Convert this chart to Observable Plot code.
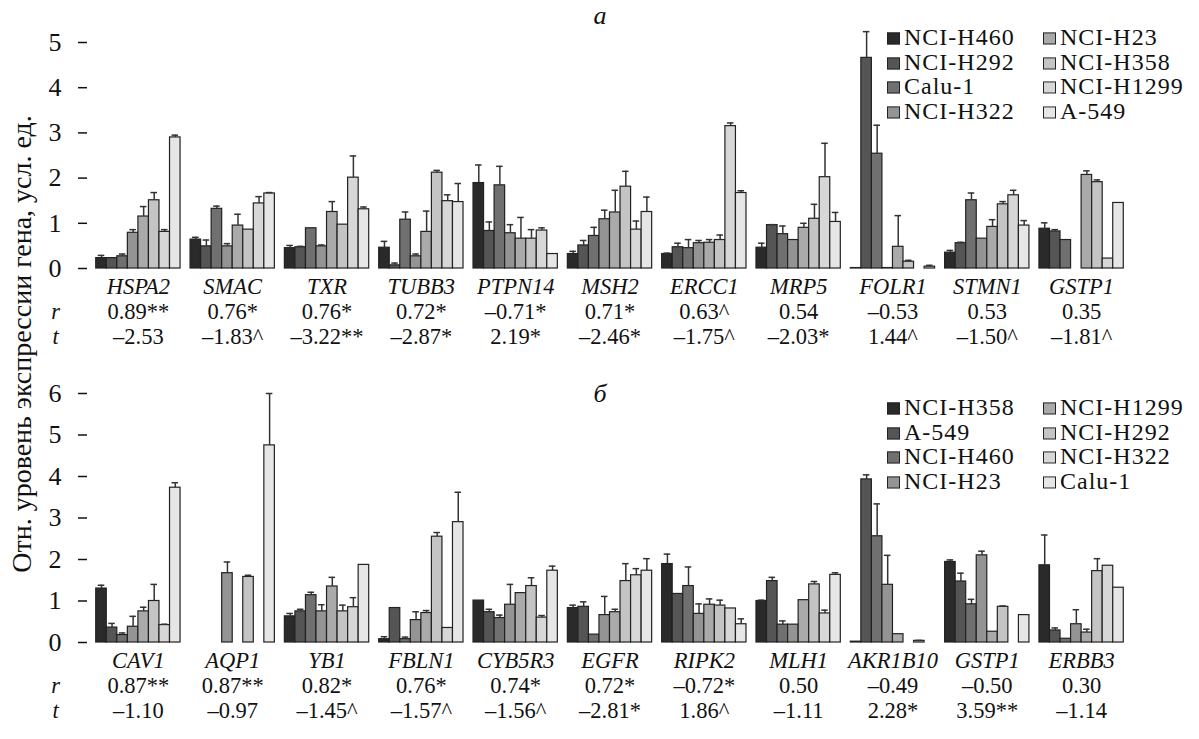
<!DOCTYPE html>
<html><head><meta charset="utf-8">
<script src="https://cdn.jsdelivr.net/npm/d3@7"></script>
<script src="https://cdn.jsdelivr.net/npm/@observablehq/plot@0.6"></script>
<style>
body{margin:0;background:#fff;font-family:"Liberation Serif","Times New Roman",Times,serif;color:#111}
#wrap{position:relative;width:1199px;height:739px;overflow:hidden;background:#fff}
.panel{position:absolute;left:0}
.panel text{font-family:"Liberation Serif","Times New Roman",Times,serif}
.lg{position:absolute;font-size:24px;line-height:24px;letter-spacing:1px;white-space:nowrap;color:#111;transform:scaleY(0.92);transform-origin:left center}
.lg i{display:inline-block;width:11px;height:11px;border:1px solid #222;margin-right:4px;vertical-align:1px}
.plabel{position:absolute;font-style:italic;font-size:26px;transform:translate(-50%,-50%)}
#ylab{position:absolute;left:22px;top:344px;transform:translate(-50%,-50%) rotate(-90deg);font-size:28px;white-space:nowrap}
</style></head>
<body><div id="wrap"></div>
<script>
// ---------- data: panel а ----------
const genesA = ["HSPA2","SMAC","TXR","TUBB3","PTPN14","MSH2","ERCC1","MRP5","FOLR1","STMN1","GSTP1"];
const linesA = ["NCI-H460","NCI-H292","Calu-1","NCI-H322","NCI-H23","NCI-H358","NCI-H1299","A-549"];
const valuesA = [
  [0.23,0.23,0.27,0.79,1.15,1.51,0.81,2.90],
  [0.64,0.49,1.32,0.49,0.95,0.86,1.44,1.66],
  [0.45,0.47,0.89,0.49,1.25,0.97,2.01,1.31],
  [0.46,0.07,1.08,0.27,0.81,2.12,1.49,1.47],
  [1.89,0.83,1.84,0.78,0.66,0.66,0.84,0.32],
  [0.32,0.51,0.72,1.09,1.24,1.81,0.86,1.25],
  [0.32,0.47,0.45,0.56,0.57,0.63,3.15,1.67],
  [0.46,0.96,0.76,0.63,0.90,1.10,2.02,1.03],
  [0.01,4.66,2.54,0.01,0.48,0.15,0.00,0.04],
  [0.35,0.56,1.51,0.66,0.92,1.42,1.62,0.95],
  [0.88,0.82,0.63,0.00,2.07,1.91,0.22,1.45]
];
const errTopA = [
  [0.29,null,0.32,0.86,1.37,1.68,0.86,2.95],
  [0.69,0.63,1.38,0.55,1.20,null,1.59,1.68],
  [0.51,0.49,null,0.52,1.48,null,2.49,1.36],
  [0.60,0.12,1.25,0.32,1.27,2.17,1.63,1.88],
  [2.29,1.03,2.26,0.97,1.13,0.86,0.90,null],
  [0.38,0.62,0.91,1.29,1.73,2.15,1.05,1.58],
  [0.34,0.56,0.64,0.62,0.64,0.74,3.22,1.72],
  [0.56,0.97,0.94,null,1.00,1.42,2.77,1.24],
  [null,5.24,3.17,null,1.17,0.18,null,0.07],
  [0.40,0.58,1.67,null,1.08,1.48,1.73,1.06],
  [1.01,0.86,null,null,2.16,1.96,null,null]
];
const rA = ["0.89**","0.76*","0.76*","0.72*","–0.71*","0.71*","0.63^","0.54","–0.53","0.53","0.35"];
const tA = ["–2.53","–1.83^","–3.22**","–2.87*","2.19*","–2.46*","–1.75^","–2.03*","1.44^","–1.50^","–1.81^"];

// ---------- data: panel б ----------
const genesB = ["CAV1","AQP1","YB1","FBLN1","CYB5R3","EGFR","RIPK2","MLH1","AKR1B10","GSTP1","ERBB3"];
const linesB = ["NCI-H358","A-549","NCI-H460","NCI-H23","NCI-H1299","NCI-H292","NCI-H322","Calu-1"];
const valuesB = [
  [1.30,0.36,0.18,0.38,0.75,1.00,0.42,3.73],
  [0.00,0.00,0.00,1.67,0.00,1.58,0.00,4.75],
  [0.63,0.75,1.14,0.75,1.35,0.75,0.85,1.87],
  [0.08,0.83,0.08,0.54,0.71,2.55,0.35,2.90],
  [1.01,0.73,0.59,0.91,1.19,1.36,0.60,1.73],
  [0.83,0.86,0.19,0.66,0.73,1.48,1.62,1.73],
  [1.89,1.17,1.36,0.69,0.91,0.89,0.82,0.44],
  [1.00,1.48,0.43,0.43,1.02,1.40,0.70,1.63],
  [0.02,3.93,2.56,1.39,0.20,0.00,0.04,0.00],
  [1.94,1.47,0.92,2.10,0.26,0.86,0.00,0.66],
  [1.86,0.29,0.09,0.44,0.24,1.72,1.85,1.32]
];
const errTopB = [
  [1.38,0.46,0.23,0.63,0.85,1.40,0.44,3.85],
  [null,null,null,1.94,null,1.62,null,6.00],
  [0.70,0.80,1.21,0.91,1.57,0.90,1.08,null],
  [0.14,null,0.13,0.74,0.77,2.65,null,3.62],
  [null,0.80,0.66,1.40,null,1.56,0.65,1.84],
  [0.90,0.98,null,1.11,0.80,1.90,1.78,2.02],
  [2.13,null,1.82,0.93,1.05,1.02,null,0.57],
  [1.02,1.57,0.52,null,null,1.47,0.78,1.68],
  [null,4.04,3.34,2.10,null,null,0.05,null],
  [1.99,1.67,1.04,2.20,null,0.88,null,null],
  [2.59,0.35,null,0.79,0.32,2.02,null,null]
];
const rB = ["0.87**","0.87**","0.82*","0.76*","0.74*","0.72*","–0.72*","0.50","–0.49","–0.50","0.30"];
const tB = ["–1.10","–0.97","–1.45^","–1.57^","–1.56^","–2.81*","1.86^","–1.11","2.28*","3.59**","–1.14"];

const grays = ["#2a2a2a","#555555","#707070","#949494","#aaaaaa","#c4c4c4","#d7d7d7","#e6e6e6"];
const yTicksA = [0,1,2,3,4,5];
const yTicksB = [0,1,2,3,4,5,6];

// ---------- layout ----------
const FONT = '"Liberation Serif","Times New Roman",Times,serif';
const W = 1199, mL = 78, mR = 58, PI = 0.106, PO = 0.188;
const ROW = [25, 50, 75], FS = 22.5;

function panel(genes, lines, vals, errs, rs, ts, yTicks, height, mTop, mBottom) {
  const data = [], errData = [];
  genes.forEach((g, i) => lines.forEach((l, j) => {
    data.push({gene: g, line: l, value: vals[i][j]});
    if (errs[i][j] != null) errData.push({gene: g, line: l, value: vals[i][j], err: errs[i][j]});
  }));
  const labels = genes.map((g, i) => ({gene: g, r: rs[i], t: ts[i]}));
  const n = genes.length;
  const step = (W - mL - mR) / (n - PI + 2 * PO);
  const outer = step * PO, bw = step * (1 - PI);
  const yMax = yTicks[yTicks.length - 1];
  const first = [{gene: genes[0], r: "r", t: "t"}];
  return Plot.plot({
    width: W, height, marginLeft: mL, marginRight: mR, marginTop: mTop, marginBottom: mBottom,
    style: {fontFamily: FONT, fontSize: "25px", color: "#111", background: "transparent", overflow: "visible"},
    fx: {domain: genes, paddingInner: PI, paddingOuter: PO, round: false, axis: null, label: null},
    x: {domain: lines, padding: 0, round: false, axis: null},
    y: {domain: [0, yMax], axis: null},
    color: {domain: lines, range: grays},
    marks: [
      Plot.barY(data, {fx: "gene", x: "line", y: "value", fill: "line", stroke: "#222", strokeWidth: 1.2}),
      Plot.ruleX(errData, {fx: "gene", x: "line", y1: "value", y2: "err", stroke: "#333", strokeWidth: 1.5}),
      Plot.tickY(errData, {fx: "gene", x: "line", y: "err", stroke: "#333", strokeWidth: 1.5, insetLeft: 2, insetRight: 2}),
      Plot.axisY({ticks: yTicks, tickFormat: d => String(d), tickSize: -9, tickPadding: 26, dx: -outer, fontSize: 26, strokeWidth: 1.5}),
      Plot.ruleX([{gene: genes[0]}], {fx: "gene", y1: 0, y2: yMax, dx: -(bw / 2 + outer), stroke: "#222", strokeWidth: 1.5}),
      Plot.text(labels, {fx: "gene", text: "gene", frameAnchor: "bottom", dy: ROW[0], fontStyle: "italic", fontSize: FS}),
      Plot.text(labels, {fx: "gene", text: "r", frameAnchor: "bottom", dy: ROW[1], fontSize: FS}),
      Plot.text(labels, {fx: "gene", text: "t", frameAnchor: "bottom", dy: ROW[2], fontSize: FS}),
      Plot.text(first, {fx: "gene", text: "r", frameAnchor: "bottom-left", dx: -(outer + 23), dy: ROW[1], fontStyle: "italic", fontSize: FS, textAnchor: "middle"}),
      Plot.text(first, {fx: "gene", text: "t", frameAnchor: "bottom-left", dx: -(outer + 23), dy: ROW[2], fontStyle: "italic", fontSize: FS, textAnchor: "middle"})
    ]
  });
}

const wrap = document.getElementById("wrap");
function place(el, top) { el.classList.add("panel"); el.style.top = top + "px"; wrap.appendChild(el); }

const pa = panel(genesA, linesA, valuesA, errTopA, rA, tA, yTicksA, 370, 42, 102);
place(pa, 0);
const pb = panel(genesB, linesB, valuesB, errTopB, rB, tB, yTicksB, 369, 23, 97);
place(pb, 370);

function legend(lines, top) {
  const cols = [887, 1043];
  lines.forEach((l, j) => {
    const d = document.createElement("div");
    d.className = "lg";
    d.style.left = cols[Math.floor(j / 4)] + "px";
    d.style.top = (top + (j % 4) * 24.7) + "px";
    d.innerHTML = `<i style="background:${grays[j]}"></i>${l}`;
    wrap.appendChild(d);
  });
}
legend(linesA, 26);
legend(linesB, 396);

function lab(txt, x, y, cls) { const d = document.createElement("div"); d.className = cls; d.textContent = txt; d.style.left = x + "px"; d.style.top = y + "px"; wrap.appendChild(d); return d; }
lab("а", 600, 16, "plabel");
lab("б", 600, 394, "plabel");
const yl = document.createElement("div"); yl.id = "ylab"; yl.textContent = "Отн. уровень экспрессии гена, усл. ед."; wrap.appendChild(yl);
</script>
</body></html>
